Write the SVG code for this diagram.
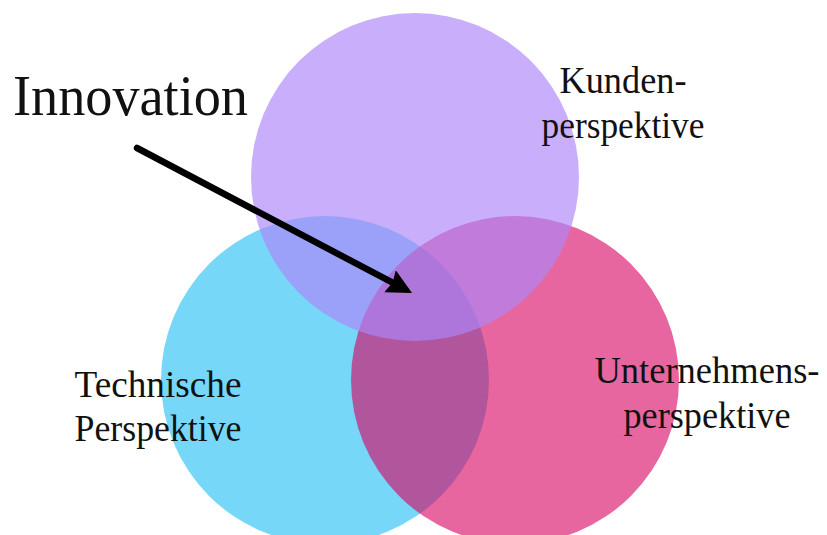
<svg xmlns="http://www.w3.org/2000/svg" width="827" height="535" viewBox="0 0 827 535">
  <style>
    .lbl { font-family: "Liberation Serif", "Times New Roman", serif; fill: #111; text-anchor: middle; }
    .sm { font-size: 37px; }
    .big { font-size: 58px; text-anchor: start; }
  </style>
  <defs>
    <marker id="head" markerUnits="userSpaceOnUse" markerWidth="26" markerHeight="26" refX="3" refY="12.5" orient="auto">
      <path d="M0,0 L25,12.5 L0,25 L3,12.5 Z" fill="#000"/>
    </marker>
  </defs>
  <rect width="827" height="535" fill="#fff"/>
  <g id="technisch">
    <circle cx="325" cy="380" r="164" fill="#76D7F9"/>
  </g>
  <g id="unternehmen">
    <circle cx="515" cy="380" r="164" fill="#D9005F" fill-opacity="0.6"/>
  </g>
  <g id="kunden">
    <circle cx="415" cy="177" r="164" fill="#AD86F9" fill-opacity="0.67"/>
  </g>
  <g id="connectors">
    <line x1="137" y1="148" x2="392.6" y2="282.7" stroke="#000" stroke-width="6.5" stroke-linecap="round" marker-end="url(#head)"/>
  </g>
  <g id="innovation">
    <text class="lbl big" x="13" y="115" textLength="235" lengthAdjust="spacingAndGlyphs">Innovation</text>
  </g>
  <g id="kunden-label">
    <text class="lbl sm" x="623" y="93" textLength="127" lengthAdjust="spacingAndGlyphs">Kunden-</text>
    <text class="lbl sm" x="623" y="138" textLength="163" lengthAdjust="spacingAndGlyphs">perspektive</text>
  </g>
  <g id="technisch-label">
    <text class="lbl sm" x="158" y="397" textLength="167" lengthAdjust="spacingAndGlyphs">Technische</text>
    <text class="lbl sm" x="158" y="441" textLength="167" lengthAdjust="spacingAndGlyphs">Perspektive</text>
  </g>
  <g id="unternehmen-label">
    <text class="lbl sm" x="707" y="383" textLength="225" lengthAdjust="spacingAndGlyphs">Unternehmens-</text>
    <text class="lbl sm" x="707" y="428" textLength="167" lengthAdjust="spacingAndGlyphs">perspektive</text>
  </g>
</svg>
